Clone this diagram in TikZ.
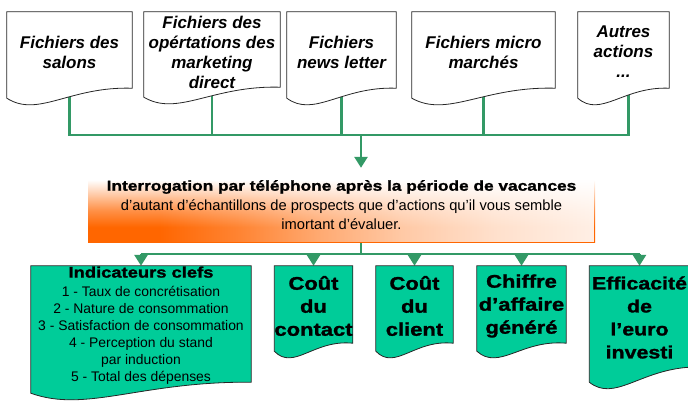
\documentclass[tikz,border=0pt]{standalone}
\usepackage{fontspec}
\setmainfont{Liberation Sans}
\newfontface\heavyfont[FakeStretch=1.2,FakeBold=1.4]{Liberation Sans Bold}
\usetikzlibrary{arrows.meta,calc,backgrounds,fadings}

\definecolor{lien}{RGB}{51,153,102}
\definecolor{vertclair}{RGB}{0,204,153}
\definecolor{orangevif}{RGB}{255,102,0}

% degrade du bandeau
\pgfdeclareverticalshading{bandeau}{100bp}{color(0bp)=(orangevif); color(35bp)=(orangevif);
  color(46.5bp)=(orangevif!72); color(57bp)=(orangevif!35); color(67bp)=(white); color(100bp)=(white)}
\pgfdeclarehorizontalshading{fondush}{100bp}{color(0bp)=(black); color(32bp)=(black);
  color(40bp)=(black!80); color(48bp)=(black!55); color(56bp)=(black!35); color(65bp)=(black!20);
  color(75bp)=(black!10); color(100bp)=(black!10)}
\pgfdeclarefading{fondu}{\pgfuseshading{fondush}}

% feuille a bas ondule : style, noeud, descente gauche, montee droite
\newcommand\feuille[4]{%
  \draw[#1] (#2.north west) -- (#2.north east) -- ($(#2.south east)+(0,-#4)$)
    .. controls ($(#2.south west)!0.5!(#2.south east)+(0,#3-12)$)
    and ($(#2.south west)!0.25!(#2.south east)+(0,#3+20)$)
    .. ($(#2.south west)+(0,#3)$) -- cycle;}

\begin{document}
\begin{tikzpicture}[x=1pt,y=-1pt,
  fichier/.style={inner sep=0pt,align=center,minimum height=80,
    font=\fontsize{17}{20}\selectfont\bfseries\itshape},
  indic/.style={inner sep=0pt,align=center,
    font=\heavyfont\fontsize{18.3}{23}\selectfont},
  link/.style={draw=lien,line width=2.6pt},
  fleche/.style={link,-{Triangle[width=13pt,length=11pt]}},
  papier/.style={draw=black!85,line width=0.8pt,fill=white},
  vert/.style={papier,fill=vertclair}]

\useasboundingbox (0,0) rectangle (688,405);

% fichiers de depart
\node[fichier,minimum width=125] (f1) at (69.5,52) {Fichiers des\\salons};
\node[fichier,minimum width=136] (f2) at (212,52)
  {Fichiers des\\opértations des\\marketing\\direct};
\node[fichier,minimum width=109] (f3) at (341.5,52) {Fichiers\\news letter};
\node[fichier,minimum width=143] (f4) at (483.5,52) {Fichiers micro\\marchés};
\node[fichier,minimum width=91] (f5) at (623.5,52) {Autres\\actions\\...};

% interrogation
\node[inner sep=0pt,minimum width=507,minimum height=74,align=center,
  shading=bandeau,
  path picture={\fill[white,path fading=fondu]
    (path picture bounding box.south west) rectangle (path picture bounding box.north east);},
  font=\fontsize{14.7}{19.5}\selectfont] (band) at (341.5,205)
  {{\heavyfont\fontsize{14.4}{19.5}\selectfont Interrogation par téléphone après la période de vacances}\\
   d’autant d’échantillons de prospects que d’actions qu’il vous semble\\
   imortant d’évaluer.};

% indicateurs
\node[inner sep=0pt,align=center,minimum width=220,minimum height=119,
  font=\fontsize{13.9}{17}\selectfont] (ind) at (141,325.5)
  {{\heavyfont\fontsize{15.3}{17}\selectfont Indicateurs clefs}\\[2pt]
   1 - Taux de concrétisation\\
   2 - Nature de consommation\\
   3 - Satisfaction de consommation\\
   4 - Perception du stand\\
   par induction\\
   5 - Total des dépenses};
\node[indic,minimum width=77,minimum height=80] (c1) at (313.5,306) {Coût\\du\\contact};
\node[indic,minimum width=77,minimum height=80] (c2) at (414.5,306) {Coût\\du\\client};
\node[indic,minimum width=89,minimum height=80] (c3) at (521.5,306) {Chiffre\\d’affaire\\généré};
\node[indic,minimum width=100,minimum height=103,
  font=\heavyfont\fontsize{17.8}{23}\selectfont] (c4) at (639.5,317.5)
  {Efficacité\\de\\l’euro\\investi};

\coordinate (bt) at (361,135);
\coordinate (bb) at (361,254);
\coordinate (f5b) at ([xshift=5]f5.south);

\begin{pgfonlayer}{background}
  \draw[link] (f1.south) -- (f1.south |- bt) -- (f5b |- bt) -- (f5b);
  \foreach \f in {f2,f3,f4}
    \draw[link] (\f.south) -- (\f.south |- bt);
  \draw[fleche] (bt) -- (bt |- band.north);
  \draw[link] (bb |- band.south) -- (bb);
  \draw[link] (ind.north |- bb) -- (c4.north |- bb);
  \foreach \c in {ind,c1,c2,c3,c4}
    \draw[fleche] (\c.north |- bb) -- (\c.north);
  % les feuilles
  \feuille{papier}{f1}{6}{4}
  \feuille{papier}{f2}{5}{5}
  \feuille{papier}{f3}{6}{4}
  \feuille{papier}{f4}{6}{4}
  \feuille{papier}{f5}{6}{4}
  \feuille{vert}{ind}{8}{3}
  \feuille{vert}{c1}{5}{3}
  \feuille{vert}{c2}{5}{3}
  \feuille{vert}{c3}{5}{3}
  \feuille{vert}{c4}{13}{2}
\end{pgfonlayer}
\end{tikzpicture}
\end{document}
